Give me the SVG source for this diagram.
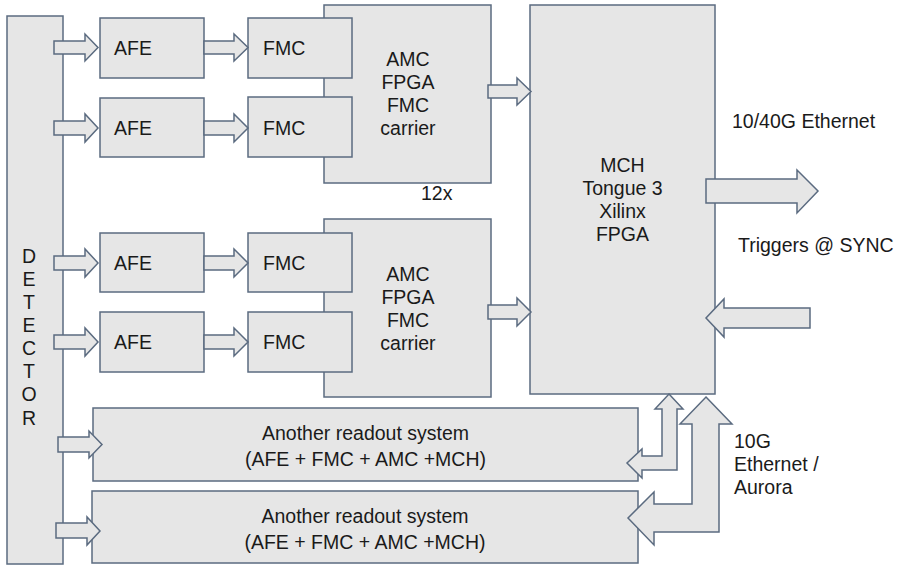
<svg xmlns="http://www.w3.org/2000/svg" width="901" height="566" viewBox="0 0 901 566">
<style>
.box{fill:#e6e6e6;stroke:#5b6b80;stroke-width:1.5}
.arr{fill:#e6e6e6;stroke:#5b6b80;stroke-width:1.5;stroke-linejoin:miter}
text{font-family:"Liberation Sans",Arial,sans-serif;font-size:19.5px;fill:#1a1a1a}
.c{text-anchor:middle}
</style>
<rect width="901" height="566" fill="#ffffff"/>
<g id="detector">
<rect class="box" x="7" y="16" width="56" height="548"/>
<text class="c" x="29" y="263">D</text>
<text class="c" x="29" y="286">E</text>
<text class="c" x="29" y="309">T</text>
<text class="c" x="29" y="332">E</text>
<text class="c" x="29" y="355">C</text>
<text class="c" x="29" y="378">T</text>
<text class="c" x="29" y="401">O</text>
<text class="c" x="29" y="425">R</text>
</g>
<g id="afe1"><rect class="box" x="100" y="18" width="104" height="60"/><text x="114" y="55">AFE</text></g>
<g id="afe2"><rect class="box" x="100" y="98" width="104" height="59"/><text x="114" y="135">AFE</text></g>
<g id="afe3"><rect class="box" x="100" y="233" width="104" height="59"/><text x="114" y="270">AFE</text></g>
<g id="afe4"><rect class="box" x="100" y="312" width="104" height="60"/><text x="114" y="349">AFE</text></g>
<g id="amc1">
<rect class="box" x="324" y="5" width="167" height="178"/>
<text class="c" x="408" y="66">AMC</text>
<text class="c" x="408" y="89">FPGA</text>
<text class="c" x="408" y="112">FMC</text>
<text class="c" x="408" y="135">carrier</text>
</g>
<g id="amc2">
<rect class="box" x="324" y="219" width="167" height="178"/>
<text class="c" x="408" y="281">AMC</text>
<text class="c" x="408" y="304">FPGA</text>
<text class="c" x="408" y="327">FMC</text>
<text class="c" x="408" y="350">carrier</text>
</g>
<g id="fmc1"><rect class="box" x="248" y="18" width="104" height="60"/><text x="263" y="55">FMC</text></g>
<g id="fmc2"><rect class="box" x="248" y="97" width="104" height="60"/><text x="263" y="135">FMC</text></g>
<g id="fmc3"><rect class="box" x="248" y="233" width="104" height="59"/><text x="263" y="270">FMC</text></g>
<g id="fmc4"><rect class="box" x="248" y="312" width="104" height="60"/><text x="263" y="349">FMC</text></g>
<g id="mch">
<rect class="box" x="530" y="5" width="185" height="389"/>
<text class="c" x="622.5" y="172">MCH</text>
<text class="c" x="622.5" y="195">Tongue 3</text>
<text class="c" x="622.5" y="218">Xilinx</text>
<text class="c" x="622.5" y="241">FPGA</text>
</g>
<g id="readout1">
<rect class="box" x="93" y="408" width="545" height="73"/>
<text class="c" x="365.5" y="440">Another readout system</text>
<text class="c" x="365.5" y="466">(AFE + FMC + AMC +MCH)</text>
</g>
<g id="readout2">
<rect class="box" x="92" y="491" width="546" height="72"/>
<text class="c" x="365" y="523">Another readout system</text>
<text class="c" x="365" y="549">(AFE + FMC + AMC +MCH)</text>
</g>
<g id="labels">
<text x="421" y="200">12x</text>
<text x="732" y="128">10/40G Ethernet</text>
<text x="738" y="252">Triggers @ SYNC</text>
<text x="734" y="448">10G</text>
<text x="734" y="471">Ethernet /</text>
<text x="734" y="494">Aurora</text>
</g>
<g id="connectors">
<path class="arr" d="M54,41 L85,41 L85,34 L98,47.5 L85,61 L85,54 L54,54 Z"/>
<path class="arr" d="M54,121 L85,121 L85,114 L98,128 L85,142 L85,135 L54,135 Z"/>
<path class="arr" d="M54,256 L85,256 L85,249 L98,263 L85,277 L85,270 L54,270 Z"/>
<path class="arr" d="M54,335 L85,335 L85,328 L98,342 L85,356 L85,349 L54,349 Z"/>
<path class="arr" d="M204,41 L234,41 L234,34 L248,47.5 L234,61 L234,54 L204,54 Z"/>
<path class="arr" d="M204,121 L234,121 L234,114 L248,128 L234,142 L234,135 L204,135 Z"/>
<path class="arr" d="M204,256 L234,256 L234,249 L248,263 L234,277 L234,270 L204,270 Z"/>
<path class="arr" d="M204,335 L234,335 L234,328 L248,342 L234,356 L234,349 L204,349 Z"/>
<path class="arr" d="M488,85 L517,85 L517,78 L531,91.5 L517,105 L517,98 L488,98 Z"/>
<path class="arr" d="M488,305 L517,305 L517,298 L531,312 L517,326 L517,319 L488,319 Z"/>
<path class="arr" d="M706,179 L797,179 L797,170 L818,191 L797,213 L797,203 L706,203 Z"/>
<path class="arr" d="M810,308 L724,308 L724,299 L706,318 L724,337 L724,328 L810,328 Z"/>
<path class="arr" d="M58,437 L89,437 L89,431 L102,444.5 L89,458 L89,452 L58,452 Z"/>
<path class="arr" d="M56,523 L87,523 L87,517 L100,531 L87,545 L87,538 L56,538 Z"/>
<path class="arr" d="M669,394 L683,409 L677,409 L677,470 L642,470 L642,478 L627,463 L642,449 L642,456 L662,456 L662,409 L655,409 Z"/>
<path class="arr" d="M706,397 L732,424 L719,424 L719,532 L654,532 L654,545 L628,518 L654,492 L654,504 L692,504 L692,424 L680,424 Z"/>
</g>
</svg>
